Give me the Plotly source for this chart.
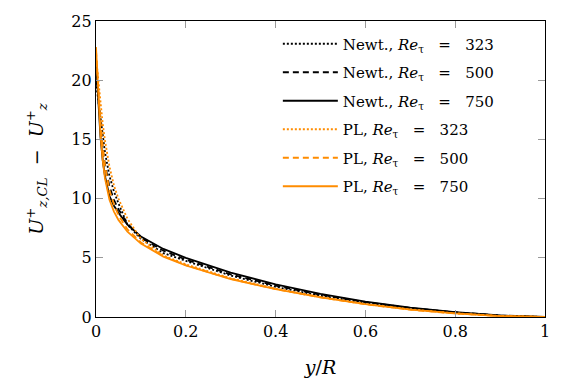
import plotly.graph_objects as go

# y/R sample positions
x_pos = [0, 0.0025, 0.005, 0.0075, 0.01, 0.015, 0.02, 0.03, 0.04, 0.05, 0.07,
         0.1, 0.15, 0.2, 0.3, 0.4, 0.5, 0.6, 0.7, 0.8, 0.9, 1.0]

newt_323 = [19.8, 19.0, 18.2, 17.4, 16.6, 15.1, 13.9, 11.9, 10.6, 9.6, 7.8,
            6.6, 5.4, 4.74, 3.5, 2.55, 1.8, 1.2, 0.72, 0.37, 0.11, 0]
newt_500 = [20.8, 19.6, 18.4, 17.2, 16.0, 14.2, 12.9, 11.0, 9.9, 9.1, 7.9,
            6.7, 5.6, 4.85, 3.6, 2.65, 1.88, 1.25, 0.76, 0.4, 0.12, 0]
newt_750 = [21.6, 19.7, 18.0, 16.5, 15.2, 13.2, 11.9, 10.2, 9.4, 8.8, 7.8,
            6.8, 5.75, 5.0, 3.75, 2.75, 1.95, 1.3, 0.8, 0.42, 0.13, 0]
pl_323 = [22.0, 21.0, 20.0, 19.0, 18.0, 16.3, 14.9, 12.7, 11.1, 10.0, 8.3,
          6.6, 5.2, 4.45, 3.27, 2.4, 1.7, 1.1, 0.64, 0.31, 0.09, 0]
pl_500 = [22.5, 20.9, 19.3, 17.8, 16.5, 14.4, 12.8, 10.7, 9.5, 8.6, 7.4,
          6.3, 5.15, 4.38, 3.22, 2.36, 1.66, 1.08, 0.62, 0.3, 0.08, 0]
pl_750 = [22.8, 20.6, 18.6, 16.9, 15.4, 13.2, 11.7, 9.9, 8.9, 8.2, 7.2,
          6.2, 5.1, 4.35, 3.2, 2.35, 1.65, 1.08, 0.62, 0.3, 0.08, 0]

EQ = "&nbsp;&nbsp;&nbsp;=&nbsp;&nbsp;&nbsp;"
series = [
    ("Newt., <i>Re</i><sub>τ</sub>" + EQ + "323", newt_323, "black", "2px,2px"),
    ("Newt., <i>Re</i><sub>τ</sub>" + EQ + "500", newt_500, "black", "6px,4px"),
    ("Newt., <i>Re</i><sub>τ</sub>" + EQ + "750", newt_750, "black", "solid"),
    ("PL, <i>Re</i><sub>τ</sub>" + EQ + "323", pl_323, "#ff8c00", "2px,2px"),
    ("PL, <i>Re</i><sub>τ</sub>" + EQ + "500", pl_500, "#ff8c00", "6px,4px"),
    ("PL, <i>Re</i><sub>τ</sub>" + EQ + "750", pl_750, "#ff8c00", "solid"),
]

x_ticks = [0, 0.2, 0.4, 0.6, 0.8, 1]
x_ticklabels = ["0", "0.2", "0.4", "0.6", "0.8", "1"]
y_ticks = [0, 5, 10, 15, 20, 25]

fig = go.Figure()
for i, (name, vals, col, dash) in enumerate(series):
    fig.add_trace(go.Scatter(x=x_pos, y=vals, mode="lines", name=name,
                             legendgroup=str(i),
                             line=dict(color=col, width=1.8, dash=dash)))

font_family = "DejaVu Serif"
fig.update_layout(
    width=562, height=387,
    margin=dict(l=96, r=16, t=12, b=69),
    paper_bgcolor="white", plot_bgcolor="white",
    font=dict(family=font_family, size=16, color="black"),
    legend=dict(x=0.405, y=0.978, xanchor="left", yanchor="top",
                bgcolor="rgba(255,255,255,0)", borderwidth=0,
                font=dict(family=font_family, size=15),
                itemwidth=55,
                tracegroupgap=6, traceorder="grouped"),
    showlegend=True,
)
fig.update_xaxes(range=[0, 1], tickvals=x_ticks, ticktext=x_ticklabels,
                 showgrid=False, zeroline=False, showline=True,
                 linecolor="black", linewidth=1.2, mirror="ticks",
                 ticks="inside", ticklen=7, tickcolor="#999999",
                 title=dict(text="<i>y</i>/<i>R</i>", standoff=20))
fig.update_yaxes(range=[0, 25], tickvals=y_ticks,
                 showgrid=False, zeroline=False, showline=True,
                 linecolor="black", linewidth=1.2, mirror="ticks",
                 ticks="inside", ticklen=7, tickcolor="#999999",
                 title=dict(text="<i>U</i><sup>+</sup><sub><i>z,CL</i></sub>  −  <i>U</i><sup>+</sup><sub><i>z</i></sub>",
                            standoff=22))

fig.write_html("out.html")
